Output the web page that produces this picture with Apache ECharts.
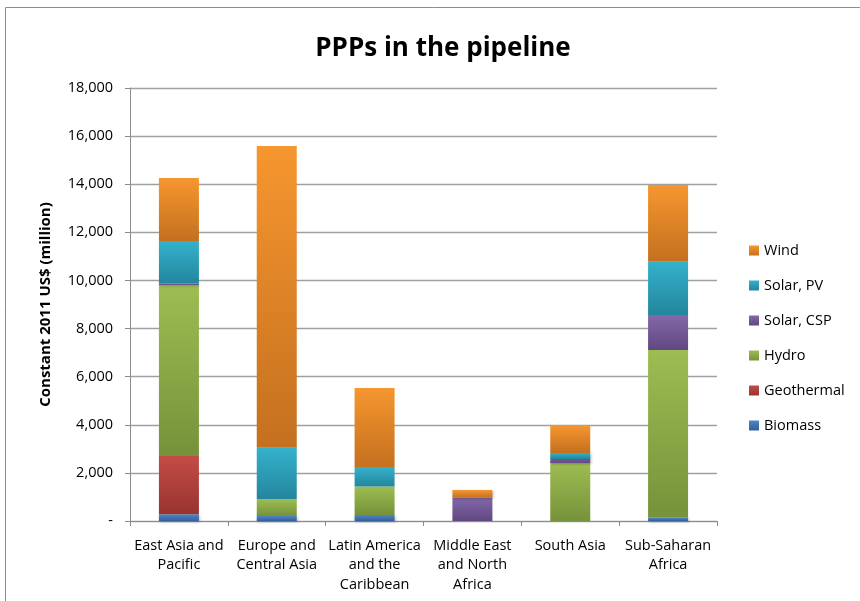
<!DOCTYPE html>
<html>
<head>
<meta charset="utf-8">
<script src="https://cdn.jsdelivr.net/npm/echarts@6/dist/echarts.min.js"></script>
<style>
  html, body { margin: 0; padding: 0; background: #fff; }
  #chart { width: 860px; height: 601px; }
</style>
</head>
<body>
<div id="chart"></div>
<script>
// regions along the x axis
var regions = ['East Asia and\nPacific', 'Europe and\nCentral Asia', 'Latin America\nand the\nCaribbean',
               'Middle East\nand North\nAfrica', 'South Asia', 'Sub-Saharan\nAfrica'];

// constant 2011 US$ (million)
var biomass    = [280, 210, 250, 0, 0, 140];
var geothermal = [2420, 0, 0, 0, 0, 0];
var hydro      = [7110, 700, 1180, 0, 2410, 6970];
var solarCSP   = [70, 0, 0, 970, 170, 1450];
var solarPV    = [1760, 2140, 810, 0, 250, 2220];
var wind       = [2620, 12540, 3290, 320, 1160, 3190];

var legendOrder = ['Wind', 'Solar, PV', 'Solar, CSP', 'Hydro', 'Geothermal', 'Biomass'];

function grad(top, bottom) {
    return new echarts.graphic.LinearGradient(0, 0, 0, 1, [
        {offset: 0, color: top},
        {offset: 1, color: bottom}
    ]);
}

function bar(name, data, top, bottom) {
    return {
        name: name,
        type: 'bar',
        stack: 'total',
        barWidth: 40,
        data: data,
        itemStyle: {
            color: grad(top, bottom),
            shadowColor: 'rgba(0,0,0,0.25)',
            shadowBlur: 3,
            shadowOffsetX: 1,
            shadowOffsetY: 1
        }
    };
}

var chart = echarts.init(document.getElementById('chart'));
var font = '"Open Sans", "Noto Sans", sans-serif';

var option = {
    backgroundColor: '#fff',
    textStyle: {fontFamily: font},
    title: {
        text: 'PPPs in the pipeline',
        left: 438,
        textAlign: 'center',
        top: 31,
        textStyle: {fontSize: 26, fontWeight: 'bold', color: '#000', fontFamily: font}
    },
    graphic: [{
        type: 'rect',
        shape: {x: 5.5, y: 7.5, width: 900, height: 700},
        style: {fill: 'none', stroke: '#8c8c8c', lineWidth: 1}
    }],
    legend: {
        orient: 'vertical',
        left: 744,
        top: 238,
        itemGap: 20,
        itemWidth: 10,
        itemHeight: 10,
        icon: 'rect',
        data: legendOrder,
        textStyle: {fontSize: 14.5, color: '#000', fontFamily: font}
    },
    grid: {left: 130, right: 143, top: 88, bottom: 80},
    xAxis: {
        type: 'category',
        data: regions,
        axisLine: {lineStyle: {color: '#8c8c8c', width: 1}},
        axisTick: {show: true, length: 5, lineStyle: {color: '#8c8c8c'}},
        axisLabel: {fontSize: 14.5, color: '#000', lineHeight: 19.5, margin: 15, interval: 0}
    },
    yAxis: {
        type: 'value',
        min: 0,
        max: 18000,
        interval: 2000,
        name: 'Constant 2011 US$ (million)',
        nameLocation: 'middle',
        nameGap: 77,
        nameTextStyle: {fontSize: 15, fontWeight: 'bold', color: '#000', fontFamily: font},
        axisLine: {show: true, lineStyle: {color: '#8c8c8c'}},
        axisTick: {show: true, length: 5, lineStyle: {color: '#8c8c8c'}},
        splitLine: {lineStyle: {color: '#a0a0a0', width: 1.4}},
        axisLabel: {
            fontSize: 14.5, color: '#000', margin: 17,
            formatter: function (v) { return v === 0 ? '-' : v.toLocaleString('en-US'); }
        }
    },
    series: [
        bar('Biomass', biomass, '#4d86c6', '#335f98'),
        bar('Geothermal', geothermal, '#c44c45', '#983330'),
        bar('Hydro', hydro, '#9dbd52', '#76923a'),
        bar('Solar, CSP', solarCSP, '#8468aa', '#5f4880'),
        bar('Solar, PV', solarPV, '#35b1cc', '#23869d'),
        bar('Wind', wind, '#f6962f', '#c4701f')
    ]
};
chart.setOption(option);
</script>
</body>
</html>
